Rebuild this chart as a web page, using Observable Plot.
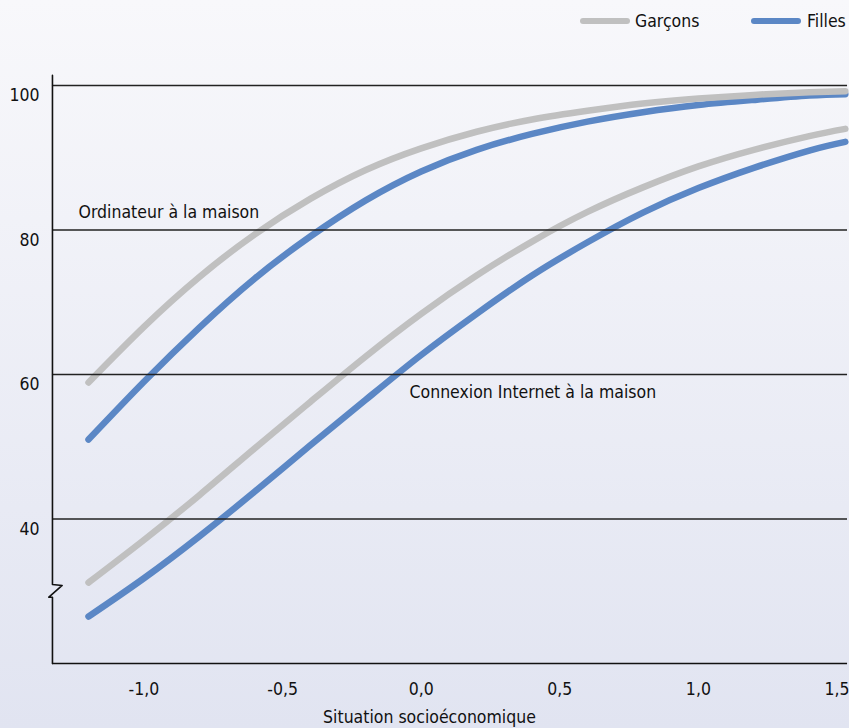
<!DOCTYPE html>
<html>
<head>
<meta charset="utf-8">
<script src="https://cdn.jsdelivr.net/npm/d3@7"></script>
<script src="https://cdn.jsdelivr.net/npm/@observablehq/plot@0.6"></script>
<style>
  html, body { margin: 0; padding: 0; }
  body {
    width: 849px; height: 728px; overflow: hidden;
    background: linear-gradient(to bottom, #f8f8fb 0%, #e1e4f1 100%);
    font-family: "Liberation Sans Narrow", "DejaVu Sans Condensed", "Roboto", sans-serif;
    color: #111;
  }
  #legend { position: relative; height: 45px; width: 849px; }
  .sw { position: absolute; top: 18px; height: 6px; border-radius: 3px; }
  .lab { position: absolute; top: 10px; font-size: 17.5px; line-height: 22px; }
  #chart svg { display: block; }
</style>
</head>
<body>
<div id="legend"></div>
<div id="chart"></div>
<script>
// ---- data ----
const ses = [-1.2, -1.0, -0.8, -0.6, -0.4, -0.2, 0.0, 0.2, 0.4, 0.6, 0.8, 1.0, 1.2, 1.4, 1.53];
const ordiGarcons     = [58.9, 66.6, 73.5, 79.4, 84.3, 88.3, 91.3, 93.6, 95.3, 96.5, 97.5, 98.2, 98.7, 99.05, 99.2];
const ordiFilles      = [51.0, 59.0, 66.5, 73.3, 79.1, 84.1, 88.1, 91.1, 93.3, 95.0, 96.3, 97.3, 98.0, 98.6, 98.8];
const internetGarcons = [31.2, 37.1, 43.3, 49.8, 56.2, 62.5, 68.4, 73.7, 78.4, 82.5, 85.9, 88.8, 91.1, 93.0, 94.0];
const internetFilles  = [26.5, 31.8, 37.6, 43.8, 50.2, 56.5, 62.7, 68.4, 73.7, 78.3, 82.4, 85.8, 88.6, 91.0, 92.2];
const series = ["Garçons", "Filles"];
const colors = ["#c0c0c0", "#5b87c5"];
const xTicks = [-1.0, -0.5, 0.0, 0.5, 1.0, 1.5];
const yTicks = [40, 60, 80, 100];
const xTitle = "Situation socioéconomique";
const annotations = [
  {s: -1.236, v: 82.4, text: "Ordinateur à la maison"},
  {s: -0.042, v: 57.5, text: "Connexion Internet à la maison"}
];
// axis frame (y axis at x = -1.33, right end at 1.538)
const axisLeft = -1.33, axisRight = 1.538;
const yAxisPath = [
  {s: axisLeft, v: 101.4}, {s: axisLeft, v: 30.93}, {s: -1.295, v: 30.8},
  {s: -1.343, v: 29.18}, {s: axisLeft, v: 29.18}, {s: axisLeft, v: 20}
];

// ---- build rows ----
const rows = [];
const add = (arr, sex, item) => arr.forEach((v, i) => rows.push({s: ses[i], v, sex, key: item + sex}));
// Filles first so Garçons sits on top
add(ordiFilles, "Filles", "ordi");
add(internetFilles, "Filles", "net");
add(ordiGarcons, "Garçons", "ordi");
add(internetGarcons, "Garçons", "net");
const fontFam = '"Liberation Sans Narrow", "DejaVu Sans Condensed", "Roboto", sans-serif';

// ---- legend ----
const legend = document.getElementById("legend");
const legendPos = [{sw: 580, lab: 635}, {sw: 751, lab: 807}];
series.forEach((name, i) => {
  const sw = document.createElement("div");
  sw.className = "sw"; sw.style.left = legendPos[i].sw + "px"; sw.style.width = "50px";
  sw.style.background = colors[i];
  const lab = document.createElement("div");
  lab.className = "lab"; lab.style.left = legendPos[i].lab + "px"; lab.textContent = name;
  legend.append(sw, lab);
});

// ---- chart ----
const fmt = d => d.toFixed(1).replace(".", ",");
const chart = Plot.plot({
  width: 849,
  height: 683,
  marginTop: 40,
  marginBottom: 65,
  marginLeft: 88,
  marginRight: 12.5,
  style: {background: "transparent", fontFamily: fontFam, fontSize: "17.5px", color: "#111", overflow: "hidden"},
  x: {domain: [-1.2, 1.5]},
  y: {domain: [20, 100]},
  color: {domain: series, range: colors},
  marks: [
    Plot.line(rows, {x: "s", y: "v", z: "key", stroke: "sex", strokeWidth: 6.5, curve: "natural", strokeLinecap: "round"}),
    Plot.ruleY(yTicks, {x1: axisLeft, x2: axisRight, stroke: "#222", strokeWidth: 1.6}),
    Plot.ruleY([20], {x1: axisLeft, x2: axisRight, stroke: "#111", strokeWidth: 1.6}),
    Plot.line(yAxisPath, {x: "s", y: "v", stroke: "#111", strokeWidth: 1.6, curve: "linear"}),
    Plot.axisX({ticks: xTicks, tickSize: 0, tickPadding: 19, tickFormat: fmt, label: null, fontSize: 17.5}),
    Plot.axisY({ticks: yTicks, tickSize: 0, tickPadding: 49, label: null, dy: 10, fontSize: 17.5}),
    Plot.text([xTitle], {x: 0.03, y: 20, dy: 54, text: d => d, fontSize: 17.5, fill: "#111"}),
    Plot.text(annotations, {x: "s", y: "v", text: "text", textAnchor: "start", fontSize: 17.5, fill: "#111"})
  ]
});
document.getElementById("chart").append(chart);
</script>
</body>
</html>
